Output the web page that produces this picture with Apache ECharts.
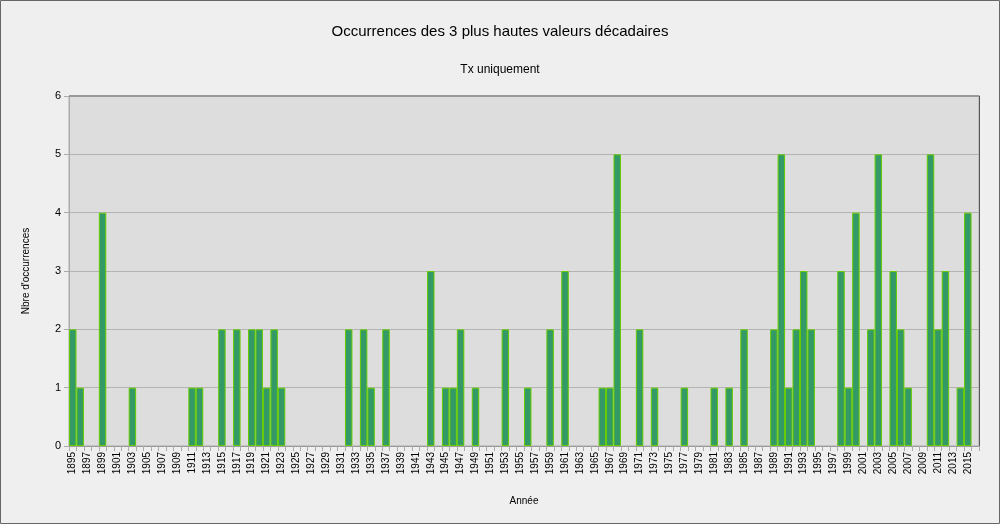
<!DOCTYPE html>
<html><head><meta charset="utf-8">
<script src="https://cdn.jsdelivr.net/npm/echarts@6/dist/echarts.min.js"></script>
<style>html,body{margin:0;padding:0;background:#efefef}#c{width:1000px;height:524px}</style>
</head><body><div id="c"></div>
<script>
const firstYear = 1895;
const lastYear = 2016;
const years = [];
for (let y = firstYear; y <= lastYear; y++) years.push(String(y));
const occurrences = [
  2,1,0,0,4,0,0,0,1,0,   // 1895-1904
  0,0,0,0,0,0,1,1,0,0,   // 1905-1914
  2,0,2,0,2,2,1,2,1,0,   // 1915-1924
  0,0,0,0,0,0,0,2,0,2,   // 1925-1934
  1,0,2,0,0,0,0,0,3,0,   // 1935-1944
  1,1,2,0,1,0,0,0,2,0,   // 1945-1954
  0,1,0,0,2,0,3,0,0,0,   // 1955-1964
  0,1,1,5,0,0,2,0,1,0,   // 1965-1974
  0,0,1,0,0,0,1,0,1,0,   // 1975-1984
  2,0,0,0,2,5,1,2,3,2,   // 1985-1994
  0,0,0,3,1,4,0,2,5,0,   // 1995-2004
  3,2,1,0,0,5,2,3,0,1,   // 2005-2014
  4,0                    // 2015-2016
];
const yTicks = [0,1,2,3,4,5,6];

const chart = echarts.init(document.getElementById('c'), null, {renderer:'canvas'});
const FONT = 'Liberation Sans';
chart.setOption({
  backgroundColor: '#efefef',
  animation: false,
  title: [
    {text: 'Occurrences des 3 plus hautes valeurs décadaires', left: 'center', top: 19,
     textStyle: {fontFamily: FONT, fontSize: 15, fontWeight: 'normal', color: '#000'}},
    {text: 'Tx uniquement', left: 'center', top: 59,
     textStyle: {fontFamily: FONT, fontSize: 12, fontWeight: 'normal', color: '#000'}}
  ],
  graphic: [
    {type:'rect', shape:{x:0.5,y:0.5,width:999,height:523}, style:{fill:'none', stroke:'#666', lineWidth:1}, silent:true},
    {type:'line', shape:{x1:69,y1:96,x2:979.5,y2:96}, style:{stroke:'#999', lineWidth:2}, silent:true, z:10},
    {type:'line', shape:{x1:979.5,y1:96,x2:979.5,y2:446}, style:{stroke:'#555', lineWidth:1}, silent:true, z:10}
  ],
  grid: {left: 69, right: 21, top: 96, bottom: 78, show: true, backgroundColor: '#dddddd', borderColor: '#aaa', borderWidth: 1},
  xAxis: {
    type: 'category', data: years,
    name: 'Année', nameLocation: 'middle', nameGap: 50,
    nameTextStyle: {fontFamily: FONT, fontSize: 10, color: '#000'},
    axisLine: {lineStyle: {color: '#999'}},
    axisTick: {show: true, interval: 0, length: 5, lineStyle: {color: '#aaa'}},
    axisLabel: {interval: 1, rotate: 90, fontFamily: FONT, fontSize: 10, color: '#000', margin: 6},
    splitLine: {show: false}
  },
  yAxis: {
    type: 'value', min: yTicks[0], max: yTicks[yTicks.length-1], interval: 1,
    name: "Nbre d'occurrences", nameLocation: 'middle', nameGap: 38,
    nameTextStyle: {fontFamily: FONT, fontSize: 10, color: '#000'},
    axisLine: {show: true, lineStyle: {color: '#aaa'}},
    axisTick: {show: true, length: 5, lineStyle: {color: '#aaa'}},
    axisLabel: {fontFamily: FONT, fontSize: 11, color: '#000', margin: 8},
    splitLine: {lineStyle: {color: '#b3b3b3', width: 1}}
  },
  series: [{
    type: 'bar', data: occurrences.map(v => v === 0 ? '-' : v),
    barCategoryGap: '0%',
    itemStyle: {color: '#339966', borderColor: '#66cc00', borderWidth: 1}
  }]
});
</script></body></html>
